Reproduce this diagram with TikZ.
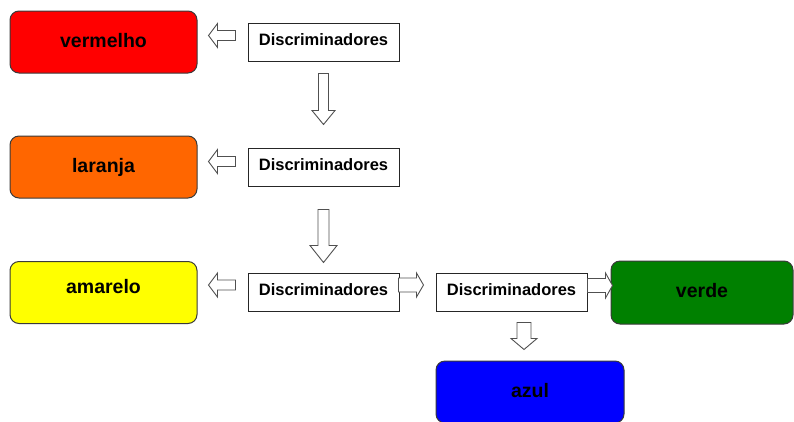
\documentclass[tikz,border=0pt]{standalone}
\usepackage{fontspec}
\setmainfont{Liberation Sans}
\usetikzlibrary{calc}
\definecolor{boxedge}{HTML}{3A3A3A}
\definecolor{arrowgray}{HTML}{505050}
\definecolor{cred}{HTML}{FF0000}
\definecolor{corange}{HTML}{FF6600}
\definecolor{cyellow}{HTML}{FFFF00}
\definecolor{cgreen}{HTML}{008000}
\definecolor{cblue}{HTML}{0000FF}
\begin{document}
\begin{tikzpicture}[x=1pt,y=-1pt,
  colorbox/.style={draw=boxedge, line width=1pt, rounded corners=9pt,
    minimum width=187pt, minimum height=62pt, inner sep=0pt,
    font=\fontsize{19.5}{20}\selectfont\bfseries, text height=14pt, text depth=4pt},
  discbox/.style={draw=black!85, fill=white, line width=1pt,
    minimum width=151pt, minimum height=38pt, inner sep=0pt,
    font=\fontsize{16.5}{18}\selectfont\bfseries, text height=12pt, text depth=6pt},
  arrowline/.style={draw=arrowgray, fill=white, line width=0.9pt, line join=miter},
  % block arrow pointing along +x: length, head length, head half-width, shaft half-width
  pics/harrow/.style n args={4}{code={
    \draw[arrowline] (0,-#4) -- (#1-#2,-#4) -- (#1-#2,-#3) -- (#1,0)
      -- (#1-#2,#3) -- (#1-#2,#4) -- (0,#4) -- cycle;}},
  % block arrow pointing downwards, same arguments
  pics/varrow/.style n args={4}{code={
    \draw[arrowline] (-#4,0) -- (-#4,#1-#2) -- (-#3,#1-#2) -- (0,#1)
      -- (#3,#1-#2) -- (#4,#1-#2) -- (#4,0) -- cycle;}}
]
\useasboundingbox (0,0) rectangle (794,421);

% colour result boxes
\node[colorbox, fill=cred]    (red)    at (103.5,42)  {vermelho};
\node[colorbox, fill=corange] (orange) at (103.5,167) {laranja};
\node[colorbox, fill=cyellow, text depth=12pt] (yellow) at (103.5,292.5) {amarelo};
\node[colorbox, fill=cgreen, minimum width=182pt, minimum height=63pt] (green) at (702,292.5) {verde};
\node[colorbox, fill=cblue, minimum width=188pt] (blue) at (530,392) {azul};

% discriminator stages
\node[discbox] (d1) at (323.5,42)  {Discriminadores};
\node[discbox] (d2) at (323.5,167) {Discriminadores};
\node[discbox] (d3) at (323.5,292) {Discriminadores};
\node[discbox] (d4) at (511.5,292) {Discriminadores};

% hollow block arrows between the stages
\pic[xscale=-1] (a1) at ($(d1.west)+(-12,-6.5)$) {harrow={27}{9}{12}{5}};
\pic[xscale=-1] (a2) at ($(d2.west)+(-12,-5.5)$) {harrow={27}{9}{12}{5}};
\pic[xscale=-1] (a3) at ($(d3.west)+(-12,-7)$)   {harrow={27}{9}{12}{5}};
\pic (b1) at ($(d1.south)+(0,12)$) {varrow={51}{14}{11.5}{5}};
\pic (b2) at ($(d2.south)+(0,23)$) {varrow={53}{17}{13.5}{5.5}};
\pic (c1) at ($(d3.east)+(-1,-7)$)   {harrow={25}{7}{12}{7}};
\pic (c2) at ($(d4.east)+(0,-6.5)$)  {harrow={25}{7}{12.5}{7}};
\pic (b3) at ($(d4.south)+(12.5,11)$) {varrow={27}{11}{13}{7}};
\end{tikzpicture}
\end{document}
